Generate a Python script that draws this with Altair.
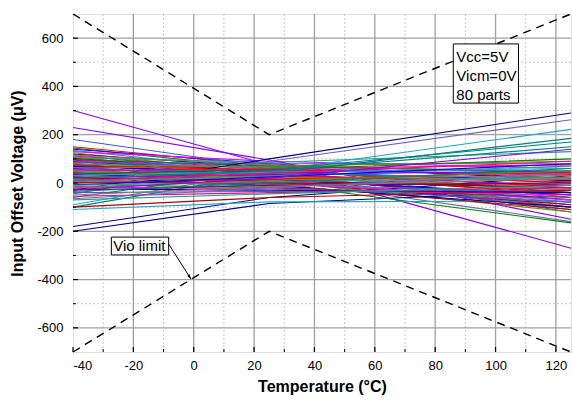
import altair as alt
import pandas as pd

# ---------------- data ----------------
temps = [-40, 25, 125]

v_m40 = [150, 145, 140, 135, 130, 125, -180, 300, 120, 118,
         180, 115, 112, 110, 105, 102, 100, 98, 95, -90,
         92, 90, -200, 230, 88, -100, 85, 82, 80, -45,
         78, 75, 72, 70, 68, -110, 65, 62, -30, 60,
         58, -60, 55, 52, 50, 48, 45, 42, 40, 38,
         35, 32, 30, 28, 25, 22, 20, 18, 15, 12,
         10, 8, 5, 2, 0, -5, -8, -10, -15, -20,
         -25, -28, -30, -35, -40, -50, -55, -65, -70, -100]

v_25 = [70, 60, 80, 50, 90, 40, -60, 75, 65, 30,
        65, 75, 55, 20, 85, 45, 35, 70, 25, 50,
        60, 10, -85, 95, 50, 40, 80, 40, 15, 90,
        65, 30, 55, 0, 45, -78, 20, 70, 100, 35,
        5, 55, 50, 25, 60, 10, 40, -5, 30, 55,
        15, 45, 0, 25, -10, 35, 10, 50, -15, 20,
        40, -5, 30, 0, 15, -20, 25, 5, -25, 10,
        -30, 20, -10, 0, -35, -15, -40, -20, -45, -60]

v_125 = [-60, -40, 10, -80, 60, -100, 30, -270, 20, -110,
         -120, 40, -20, -160, 130, -50, -90, 45, -70, 222,
         30, -120, -30, -150, 0, 185, 80, -30, -100, 262,
         50, -40, 35, -165, 10, -75, -60, 90, 290, -10,
         -90, 170, 40, -30, 75, -80, 20, -110, 5, 100,
         -50, 60, -70, 15, -100, 50, -20, 150, -80, 30,
         90, -40, 70, -10, 45, -60, 80, 20, -50, 50,
         -40, 140, 0, 60, -30, 20, -20, 40, -10, -30]

limit_t = [-40, 25, 125]
limit_hi = [700, 200, 700]
limit_lo = [-700, -200, -700]

x_major = [-40, -20, 0, 20, 40, 60, 80, 100, 120]
x_minor = [-30, -10, 10, 30, 50, 70, 90, 110]
y_major = [-600, -400, -200, 0, 200, 400, 600]
y_minor = [-500, -300, -100, 100, 300, 500]

note_lines = ["Vcc=5V", "Vicm=0V", "80 parts"]
note_y = [522, 443, 364]
note_x = 87.0
note_box = dict(x=86.0, x2=107.6, y=576, y2=331)

vio_text = "Vio limit"
vio_box = dict(x=-27.3, x2=-8.3, y=-224, y2=-298)
arrow = dict(x=-8.3, y=-253, x2=-0.9, y2=-398)

palette = ["#FF0000", "#008000", "#0000FF", "#1AA6CC", "#FF00FF", "#808000",
           "#000080", "#8000FF", "#800040", "#008080", "#3A5FCD", "#A0785A",
           "#FF0080", "#6A6AB0", "#20A080", "#B00000"]

FONT = "Liberation Sans"

# ---------------- frames ----------------
rows = []
for i in range(len(v_m40)):
    for t, v in zip(temps, (v_m40[i], v_25[i], v_125[i])):
        rows.append({"part": i, "T": t, "V": v, "col": palette[i % len(palette)]})
parts_df = pd.DataFrame(rows)

lim_df = pd.DataFrame(
    [{"g": "hi", "T": t, "V": v} for t, v in zip(limit_t, limit_hi)]
    + [{"g": "lo", "T": t, "V": v} for t, v in zip(limit_t, limit_lo)]
)

xs = alt.Scale(domain=[-40, 125], nice=False, zero=False)
ys = alt.Scale(domain=[-700, 700], nice=False, zero=False)

W, H = 498, 338
LBL = "replace(datum.label, '\u2212', '-')"

xaxis = alt.Axis(values=x_major, grid=False, ticks=False, domain=False,
                 labelFont=FONT, labelFontSize=13, labelColor="#000",
                 labelPadding=7, labelExpr=LBL, title="Temperature (°C)", titleFont=FONT,
                 titleFontSize=16, titleFontWeight="bold", titleColor="#000",
                 titlePadding=6)
yaxis = alt.Axis(values=y_major, grid=False, ticks=False, domain=False,
                 labelFont=FONT, labelFontSize=13, labelColor="#000",
                 labelPadding=10, labelExpr=LBL, title="Input Offset Voltage (μV)", titleFont=FONT,
                 titleFontSize=16, titleFontWeight="bold", titleColor="#000",
                 titlePadding=11)

base_x = alt.X("T:Q", scale=xs, axis=xaxis)
base_y = alt.Y("V:Q", scale=ys, axis=yaxis)

# grids
gx_minor = alt.Chart(pd.DataFrame({"T": x_minor})).mark_rule(
    color="#C8C8C8", strokeWidth=1, strokeDash=[2, 2]).encode(x=alt.X("T:Q", scale=xs))
gy_minor = alt.Chart(pd.DataFrame({"V": y_minor})).mark_rule(
    color="#C8C8C8", strokeWidth=1, strokeDash=[2, 2]).encode(y=alt.Y("V:Q", scale=ys))
gx_major = alt.Chart(pd.DataFrame({"T": x_major[1:]})).mark_rule(
    color="#A0A0A0", strokeWidth=1.3).encode(x=alt.X("T:Q", scale=xs))
gy_major = alt.Chart(pd.DataFrame({"V": y_major})).mark_rule(
    color="#A0A0A0", strokeWidth=1.3).encode(y=alt.Y("V:Q", scale=ys))

lines = alt.Chart(parts_df).mark_line(strokeWidth=1.1).encode(
    x=base_x, y=base_y, detail="part:N",
    color=alt.Color("col:N", scale=None), order="T:Q")

limits = alt.Chart(lim_df).mark_line(color="#000", strokeWidth=1.4,
                                     strokeDash=[8, 6]).encode(
    x=alt.X("T:Q", scale=xs), y=alt.Y("V:Q", scale=ys), detail="g:N")

# inward ticks
tx_major = alt.Chart(pd.DataFrame({"T": x_major})).mark_rule(color="#000", strokeWidth=1.2).encode(
    x=alt.X("T:Q", scale=xs), y=alt.value(H), y2=alt.value(H - 5))
tx_minor = alt.Chart(pd.DataFrame({"T": x_minor})).mark_rule(color="#000", strokeWidth=1).encode(
    x=alt.X("T:Q", scale=xs), y=alt.value(H), y2=alt.value(H - 3))
ty_major = alt.Chart(pd.DataFrame({"V": y_major})).mark_rule(color="#000", strokeWidth=1.2).encode(
    y=alt.Y("V:Q", scale=ys), x=alt.value(0), x2=alt.value(5))
ty_minor = alt.Chart(pd.DataFrame({"V": y_minor})).mark_rule(color="#000", strokeWidth=1).encode(
    y=alt.Y("V:Q", scale=ys), x=alt.value(0), x2=alt.value(3))

# annotation boxes
nb = alt.Chart(pd.DataFrame([note_box])).mark_rect(fill="white", stroke="#000", strokeWidth=1).encode(
    x=alt.X("x:Q", scale=xs), x2="x2:Q", y=alt.Y("y:Q", scale=ys), y2="y2:Q")
nt = alt.Chart(pd.DataFrame({"t": note_lines, "y": note_y, "x": [note_x] * 3})).mark_text(
    align="left", baseline="middle", font=FONT, fontSize=15, color="#000").encode(
    x=alt.X("x:Q", scale=xs), y=alt.Y("y:Q", scale=ys), text="t:N")

vb = alt.Chart(pd.DataFrame([vio_box])).mark_rect(fill="white", stroke="#000", strokeWidth=1).encode(
    x=alt.X("x:Q", scale=xs), x2="x2:Q", y=alt.Y("y:Q", scale=ys), y2="y2:Q")
vt = alt.Chart(pd.DataFrame({"t": [vio_text], "x": [vio_box["x"] + 0.6],
                             "y": [(vio_box["y"] + vio_box["y2"]) / 2]})).mark_text(
    align="left", baseline="middle", font=FONT, fontSize=15, color="#000").encode(
    x=alt.X("x:Q", scale=xs), y=alt.Y("y:Q", scale=ys), text="t:N")

ar = alt.Chart(pd.DataFrame([arrow])).mark_rule(color="#000", strokeWidth=1).encode(
    x=alt.X("x:Q", scale=xs), x2="x2:Q", y=alt.Y("y:Q", scale=ys), y2="y2:Q")
ah = alt.Chart(pd.DataFrame([arrow])).mark_point(
    shape="M0,0L-0.45,1.4L0.45,1.4Z", filled=True, color="#000", size=45, angle=147,
    opacity=1).encode(x=alt.X("x2:Q", scale=xs), y=alt.Y("y2:Q", scale=ys))

chart = alt.layer(
    gx_minor, gy_minor, gx_major, gy_major, lines, limits,
    tx_major, tx_minor, ty_major, ty_minor, nb, nt, vb, vt, ar, ah,
    # axes carrier
    alt.Chart(pd.DataFrame({"T": [-40], "V": [0]})).mark_point(opacity=0).encode(x=base_x, y=base_y),
).properties(
    width=W, height=H,
    autosize=alt.AutoSizeParams(type="none"),
    padding={"left": 73, "top": 14, "right": 1, "bottom": 51},
).configure_view(stroke="#000", strokeWidth=1.6).configure(background="white")

chart.save("out.html", embed_options={"renderer": "svg", "actions": False})
